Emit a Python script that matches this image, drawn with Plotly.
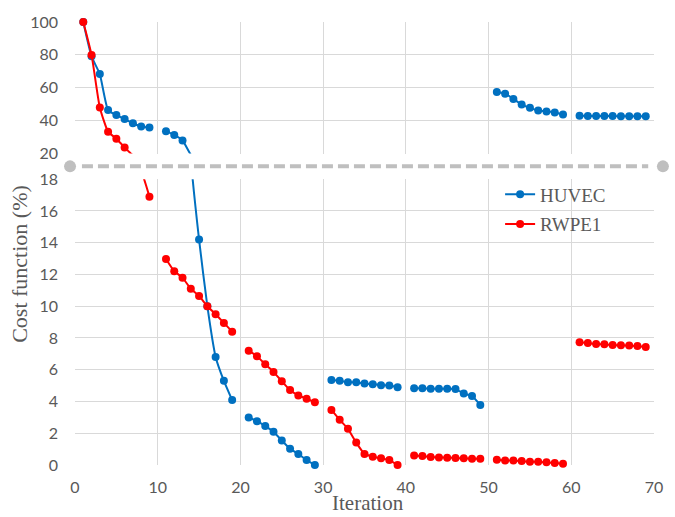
import plotly.graph_objects as go

iterations = list(range(1, 70))

huvec = [100, 79.1, 68.3, 46.4, 43.4, 41.0, 38.4, 36.4, 35.8, None,
         33.6, 31.3, 27.9, 19.3, 14.2, 10.0, 6.81, 5.3, 4.09, None,
         2.99, 2.76, 2.45, 2.1, 1.54, 1.02, 0.69, 0.31, 0.0, None,
         5.36, 5.3, 5.21, 5.21, 5.13, 5.09, 5.03, 5.01, 4.9, None,
         4.84, 4.84, 4.8, 4.8, 4.8, 4.78, 4.5, 4.34, 3.78, None,
         57.4, 56.4, 53.2, 49.8, 47.8, 46.2, 45.6, 45.0, 43.8, None,
         43.0, 42.9, 42.9, 42.8, 42.8, 42.7, 42.7, 42.6, 42.6]

rwpe1 = [100, 80.0, 48.0, 33.3, 29.0, 23.7, 19.1, 18.5, 16.9, None,
         12.98, 12.21, 11.8, 11.1, 10.65, 10.0, 9.5, 8.95, 8.4, None,
         7.2, 6.85, 6.34, 5.86, 5.28, 4.72, 4.38, 4.17, 3.95, None,
         3.47, 2.85, 2.28, 1.41, 0.7, 0.52, 0.42, 0.31, 0.0, None,
         0.6, 0.57, 0.5, 0.48, 0.46, 0.44, 0.42, 0.4, 0.4, None,
         0.33, 0.29, 0.29, 0.25, 0.21, 0.21, 0.17, 0.12, 0.08, None,
         7.73, 7.69, 7.62, 7.6, 7.56, 7.54, 7.52, 7.5, 7.43]

series = [("HUVEC", huvec, "#0070C0"), ("RWPE1", rwpe1, "#FF0000")]

x_ticks = [0, 10, 20, 30, 40, 50, 60, 70]
top_range = [20, 100]
bottom_range = [0, 18]
top_ticks = [20, 40, 60, 80, 100]
bottom_ticks = [0, 2, 4, 6, 8, 10, 12, 14, 16, 18]

GRID = "#D9D9D9"
TICKC = "#595959"
TICKFONT = dict(family="Lato", size=16, color=TICKC)
SERIF = "Liberation Serif"


def in_range(vals, rng):
    return [v if (v is not None and rng[0] <= v <= rng[1]) else None for v in vals]


fig = go.Figure()
# legend entries
for name, vals, col in series:
    fig.add_trace(go.Scatter(
        x=[None], y=[None], name=name, mode="lines+markers",
        line=dict(color=col, width=2), marker=dict(color=col, size=8),
        legendgroup=name, showlegend=True, xaxis="x", yaxis="y"))

for name, vals, col in series:
    for xa, ya, rng in [("x", "y", bottom_range), ("x2", "y2", top_range)]:
        fig.add_trace(go.Scatter(
            x=iterations, y=vals, name=name, mode="lines",
            line=dict(color=col, width=2, shape="spline", smoothing=0.5),
            connectgaps=False, legendgroup=name, showlegend=False,
            hoverinfo="skip", xaxis=xa, yaxis=ya))
        fig.add_trace(go.Scatter(
            x=iterations, y=in_range(vals, rng), name=name, mode="markers",
            marker=dict(color=col, size=8), cliponaxis=False,
            legendgroup=name, showlegend=False, xaxis=xa, yaxis=ya))

fig.update_layout(
    width=675, height=517,
    margin=dict(l=75, r=17, t=17, b=52),
    paper_bgcolor="white", plot_bgcolor="white",
    xaxis=dict(domain=[0, 1], range=[0, 70], tickvals=x_ticks,
               showgrid=True, gridcolor=GRID, gridwidth=1, zeroline=False,
               showline=False, tickfont=TICKFONT, ticks="",
               ticklabelstandoff=11, anchor="y"),
    yaxis=dict(domain=[0, 0.6451], range=bottom_range, tickvals=bottom_ticks,
               showgrid=True, gridcolor=GRID, gridwidth=1, zeroline=False,
               showline=False, tickfont=TICKFONT, ticks="",
               ticklabelstandoff=16, anchor="x"),
    xaxis2=dict(domain=[0, 1], range=[0, 70], tickvals=x_ticks,
                showgrid=True, gridcolor=GRID, gridwidth=1, zeroline=False,
                showline=False, showticklabels=False, ticks="",
                anchor="y2", matches="x"),
    yaxis2=dict(domain=[0.7031, 1.0], range=top_range, tickvals=top_ticks,
                showgrid=True, gridcolor=GRID, gridwidth=1, zeroline=False,
                showline=False, tickfont=TICKFONT, ticks="",
                ticklabelstandoff=16, anchor="x2"),
    legend=dict(x=0.7342, y=0.6535, xanchor="left", yanchor="top",
                bgcolor="rgba(0,0,0,0)", tracegroupgap=2,
                font=dict(family=SERIF, size=19, color=TICKC)),
    showlegend=True,
)

# axis titles
fig.add_annotation(text="Cost function (%)", xref="paper", yref="paper",
                   x=-0.096, y=0.455, textangle=-90, showarrow=False,
                   xanchor="center", yanchor="middle",
                   font=dict(family=SERIF, size=22, color=TICKC))
fig.add_annotation(text="Iteration", xref="paper", yref="paper",
                   x=0.506, y=-0.1155, showarrow=False,
                   xanchor="center", yanchor="bottom", borderpad=0,
                   font=dict(family=SERIF, size=21, color=TICKC))

# axis break decoration
BRK = "#BFBFBF"
yb = 0.6741
fig.add_shape(type="line", xref="paper", yref="paper",
              x0=0.012, x1=0.99, y0=yb, y1=yb,
              line=dict(color=BRK, width=4, dash="11px,5px"))
for xc in [-0.0086, 1.0154]:
    fig.add_shape(type="circle", xref="paper", yref="paper",
                  xsizemode="pixel", ysizemode="pixel",
                  xanchor=xc, yanchor=yb, x0=-6, x1=6, y0=-6, y1=6,
                  fillcolor=BRK, line=dict(width=0))

fig.write_html("out.html")
